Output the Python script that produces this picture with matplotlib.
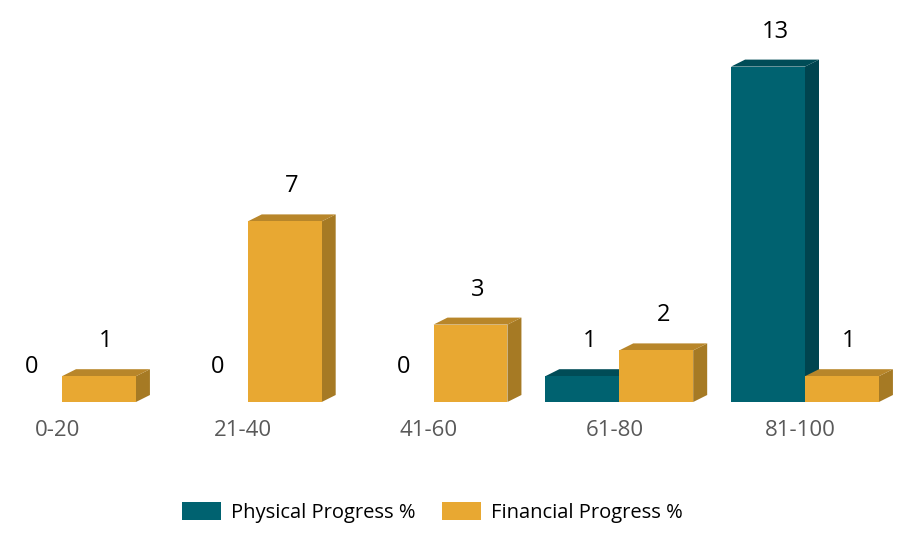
import matplotlib
matplotlib.use('Agg')
from matplotlib import pyplot as plt
from matplotlib.patches import Polygon, Patch

plt.rcParams['font.family'] = ['Open Sans', 'DejaVu Sans']

##### Data #####
categories = ['0-20', '21-40', '41-60', '61-80', '81-100']
physical = [0, 0, 0, 1, 13]
financial = [1, 7, 3, 2, 1]

##### Styling #####
teal = {'front': '#006270', 'top': '#004c57', 'side': '#00444f'}
gold = {'front': '#e8a832', 'top': '#b8862a', 'side': '#a67a24'}
bar_w = 0.398
dx = 14 / 185.75   # depth of side face (data units)
dy = 7 / 25.8      # depth of top face (data units)

fig = plt.figure(figsize=(9.01, 5.33), dpi=100)
ax = fig.add_axes([0, 0, 1, 1])
ax.set_xlim(-62 / 185.75, (901 - 62) / 185.75)
ax.set_ylim(-131 / 25.8, (533 - 131) / 25.8)
ax.axis('off')


def draw_bar(x0, h, col):
	if h > 0:
		ax.add_patch(Polygon([(x0 + bar_w, 0), (x0 + bar_w + dx, dy), (x0 + bar_w + dx, h + dy), (x0 + bar_w, h)],
							 closed=True, facecolor=col['side'], edgecolor='none'))
		ax.add_patch(Polygon([(x0, h), (x0 + dx, h + dy), (x0 + bar_w + dx, h + dy), (x0 + bar_w, h)],
							 closed=True, facecolor=col['top'], edgecolor='none'))
	ax.bar(x0, h, width=bar_w, align='edge', color=col['front'], linewidth=0)
	ax.text(x0 + bar_w / 2 + dx / 2, h + 35 / 25.8, str(h), ha='center', va='center',
			fontsize=17, color='black')


for i, cat in enumerate(categories):
	draw_bar(i - bar_w, physical[i], teal)
	draw_bar(i, financial[i], gold)
	ax.text(i - 0.025, -1.1, cat, ha='center', va='center', fontsize=16, color='#595959')

##### Legend #####
handles = [Patch(facecolor=teal['front'], label='Physical Progress %'),
		   Patch(facecolor=gold['front'], label='Financial Progress %')]
ax.legend(handles=handles, loc='center', bbox_to_anchor=(0.48, 0.038), ncol=2, frameon=False,
		  fontsize=14.5, handlelength=1.95, handleheight=1.0, handletextpad=0.5, columnspacing=1.3)

plt.savefig('out.png', dpi=100)
